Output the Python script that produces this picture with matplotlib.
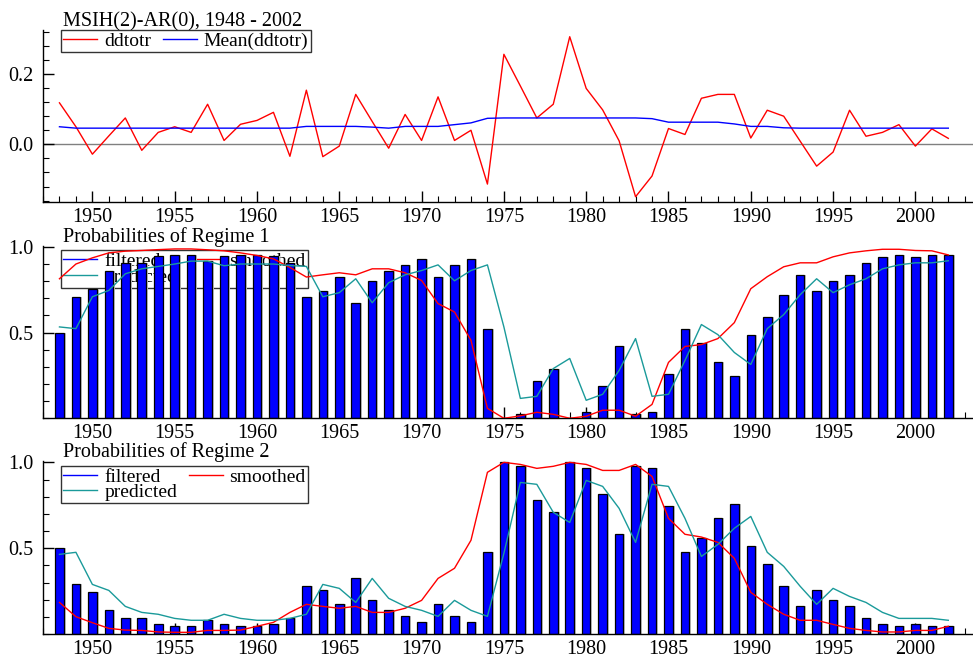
import numpy as np
import matplotlib
matplotlib.use("Agg")
import matplotlib.pyplot as plt
from matplotlib.lines import Line2D
from matplotlib.ticker import MultipleLocator, FixedLocator

plt.rcParams['font.family'] = ['Liberation Serif', 'DejaVu Serif']
plt.rcParams['font.size'] = 14.5

years = list(range(1948, 2003))

# growth series and its regime dependent mean
ddtotr = [0.118, 0.050, -0.028, 0.024, 0.075, -0.017, 0.034, 0.050, 0.034, 0.114,
          0.011, 0.057, 0.068, 0.091, -0.034, 0.154, -0.035, -0.005, 0.142, 0.065,
          -0.011, 0.085, 0.011, 0.135, 0.011, 0.040, -0.113, 0.256, 0.166, 0.075,
          0.114, 0.306, 0.159, 0.098, 0.010, -0.149, -0.090, 0.045, 0.028, 0.131,
          0.142, 0.142, 0.018, 0.097, 0.080, 0.009, -0.062, -0.022, 0.097, 0.023,
          0.034, 0.056, -0.005, 0.044, 0.017]
mean_ddtotr = [0.050, 0.046, 0.046, 0.046, 0.046, 0.046, 0.046, 0.046, 0.046, 0.046,
               0.046, 0.046, 0.046, 0.046, 0.046, 0.051, 0.051, 0.051, 0.051, 0.049,
               0.046, 0.051, 0.051, 0.051, 0.056, 0.061, 0.074, 0.075, 0.075, 0.075,
               0.075, 0.075, 0.075, 0.075, 0.075, 0.075, 0.073, 0.063, 0.063, 0.063,
               0.063, 0.058, 0.051, 0.051, 0.047, 0.046, 0.046, 0.046, 0.046, 0.046,
               0.046, 0.046, 0.046, 0.046, 0.046]

# regime 1
filt1 = [0.50, 0.709, 0.756, 0.86, 0.907, 0.907, 0.944, 0.955, 0.955, 0.92,
         0.944, 0.955, 0.955, 0.944, 0.907, 0.709, 0.744, 0.826, 0.674, 0.802,
         0.86, 0.897, 0.93, 0.826, 0.897, 0.93, 0.523, 0.0, 0.025, 0.22,
         0.29, 0.0, 0.035, 0.186, 0.419, 0.023, 0.035, 0.256, 0.523, 0.442,
         0.326, 0.244, 0.488, 0.593, 0.721, 0.837, 0.744, 0.802, 0.837, 0.907,
         0.942, 0.953, 0.942, 0.953, 0.953]
smooth1 = [0.814, 0.90, 0.936, 0.965, 0.975, 0.979, 0.984, 0.988, 0.988, 0.983,
           0.977, 0.965, 0.95, 0.93, 0.88, 0.824, 0.837, 0.849, 0.837, 0.872,
           0.872, 0.849, 0.804, 0.669, 0.62, 0.455, 0.058, 0.0, 0.014, 0.035,
           0.023, 0.0, 0.012, 0.047, 0.047, 0.012, 0.081, 0.326, 0.419, 0.43,
           0.465, 0.558, 0.756, 0.826, 0.884, 0.907, 0.907, 0.942, 0.965, 0.977,
           0.986, 0.986, 0.979, 0.977, 0.953]
pred1 = [0.533, 0.523, 0.709, 0.746, 0.843, 0.872, 0.886, 0.90, 0.917, 0.917,
         0.89, 0.90, 0.90, 0.90, 0.891, 0.886, 0.709, 0.733, 0.814, 0.674,
         0.791, 0.837, 0.862, 0.895, 0.802, 0.862, 0.895, 0.533, 0.116, 0.128,
         0.29, 0.349, 0.105, 0.14, 0.279, 0.465, 0.128, 0.14, 0.337, 0.547,
         0.488, 0.384, 0.314, 0.523, 0.605, 0.721, 0.814, 0.733, 0.779, 0.814,
         0.872, 0.895, 0.907, 0.907, 0.919]

# regime 2
filt2 = [0.499, 0.289, 0.243, 0.138, 0.091, 0.091, 0.056, 0.045, 0.045, 0.08,
         0.056, 0.045, 0.045, 0.056, 0.091, 0.278, 0.254, 0.173, 0.324, 0.196,
         0.138, 0.103, 0.068, 0.173, 0.103, 0.068, 0.476, 1.0, 0.977, 0.779,
         0.709, 1.0, 0.965, 0.814, 0.581, 0.977, 0.965, 0.744, 0.476, 0.557,
         0.674, 0.755, 0.511, 0.406, 0.278, 0.161, 0.254, 0.196, 0.161, 0.091,
         0.056, 0.045, 0.056, 0.045, 0.045]
smooth2 = [0.184, 0.101, 0.066, 0.033, 0.023, 0.021, 0.012, 0.01, 0.01, 0.021,
           0.021, 0.023, 0.045, 0.068, 0.126, 0.173, 0.161, 0.15, 0.161, 0.126,
           0.126, 0.15, 0.196, 0.324, 0.383, 0.546, 0.942, 1.0, 0.988, 0.965,
           0.977, 1.0, 0.988, 0.953, 0.953, 0.988, 0.918, 0.674, 0.581, 0.565,
           0.534, 0.441, 0.243, 0.173, 0.115, 0.08, 0.08, 0.056, 0.033, 0.021,
           0.012, 0.012, 0.021, 0.021, 0.045]
pred2 = [0.464, 0.476, 0.289, 0.254, 0.161, 0.126, 0.115, 0.091, 0.08, 0.08,
         0.115, 0.091, 0.08, 0.08, 0.091, 0.115, 0.289, 0.266, 0.184, 0.324,
         0.208, 0.161, 0.138, 0.103, 0.196, 0.138, 0.103, 0.47, 0.883, 0.872,
         0.709, 0.65, 0.895, 0.86, 0.732, 0.534, 0.872, 0.86, 0.674, 0.452,
         0.522, 0.616, 0.685, 0.476, 0.394, 0.278, 0.173, 0.266, 0.219, 0.184,
         0.126, 0.091, 0.091, 0.091, 0.08]

TEAL = '#1a9a9a'
x = np.array(years)

fig = plt.figure(figsize=(9.73, 6.63), dpi=100)
ax1 = fig.add_axes([0.0442, 0.6953, 0.9558, 0.2594])
ax2 = fig.add_axes([0.0442, 0.3691, 0.9558, 0.2606])
ax3 = fig.add_axes([0.0442, 0.0437, 0.9558, 0.2610])


def style_axis(ax):
    for s in ['top', 'right']:
        ax.spines[s].set_visible(False)
    ax.spines['left'].set_linewidth(1.0)
    ax.spines['bottom'].set_linewidth(1.0)
    ax.set_xlim(1947, 2003.5)
    ax.xaxis.set_major_locator(MultipleLocator(5))
    ax.xaxis.set_minor_locator(MultipleLocator(1))
    ax.tick_params(which='both', direction='in', top=False, right=False)
    ax.tick_params(which='major', length=8, width=1)
    ax.tick_params(which='minor', length=4, width=0.8)
    ax.tick_params(axis='x', which='major', pad=4)
    ax.tick_params(axis='y', which='major', pad=7)


# top panel
style_axis(ax1)
ax1.axhline(0, color='#808080', lw=1.0, zorder=1)
ax1.plot(x, ddtotr, color='red', lw=1.0, label='ddtotr', zorder=3)
ax1.plot(x, mean_ddtotr, color='blue', lw=1.0, label='Mean(ddtotr)', zorder=3)
ax1.set_ylim(-0.164, 0.325)
ax1.yaxis.set_major_locator(FixedLocator([0.0, 0.2]))
ax1.yaxis.set_major_formatter(plt.FuncFormatter(lambda v, p: f"{v:.1f}"))
ax1.yaxis.set_minor_locator(MultipleLocator(0.04))
ax1.text(0.0215, 1.05, 'MSIH(2)-AR(0), 1948 - 2002', transform=ax1.transAxes,
         ha='left', va='center', fontsize=14.5)
leg = ax1.legend(loc='upper left', bbox_to_anchor=(0.0194, 1.0), ncol=2,
                 frameon=True, fancybox=False, edgecolor='black', fontsize=14,
                 handlelength=1.75, handletextpad=0.35, columnspacing=0.6,
                 borderpad=0.12, borderaxespad=0.0)
leg.get_frame().set_linewidth(1.0)


def prob_panel(ax, filt, smooth, pred, title):
    style_axis(ax)
    ax.bar(x + 0.12, filt, width=0.52, color='#c4c4c4', edgecolor='none', zorder=1.5)
    ax.bar(x, filt, width=0.52, color='blue', edgecolor='black', linewidth=0.9, zorder=2)
    ax.plot(x, smooth, color='red', lw=1.0, zorder=3)
    ax.plot(x, pred, color=TEAL, lw=1.0, zorder=3)
    ax.set_ylim(0, 1.008)
    ax.yaxis.set_major_locator(FixedLocator([0.5, 1.0]))
    ax.yaxis.set_major_formatter(plt.FuncFormatter(lambda v, p: f"{v:.1f}"))
    ax.yaxis.set_minor_locator(MultipleLocator(0.1))
    ax.text(0.0215, 1.05, title, transform=ax.transAxes, ha='left', va='center',
            fontsize=14.5, zorder=4)
    handles = [Line2D([], [], color='blue', lw=1.0),
               Line2D([], [], color=TEAL, lw=1.0),
               Line2D([], [], color='red', lw=1.0)]
    labels = ['filtered', 'predicted', 'smoothed']
    lg = ax.legend(handles, labels, loc='upper left', bbox_to_anchor=(0.0194, 0.972),
                   ncol=2, frameon=True, fancybox=False, edgecolor='black',
                   fontsize=14, handlelength=1.75, handletextpad=0.35,
                   columnspacing=0.6, labelspacing=-0.12, borderpad=0.12,
                   borderaxespad=0.0)
    lg.get_frame().set_linewidth(1.0)
    lg.set_zorder(1)


prob_panel(ax2, filt1, smooth1, pred1, 'Probabilities of Regime 1')
prob_panel(ax3, filt2, smooth2, pred2, 'Probabilities of Regime 2')

fig.savefig('out.png', dpi=100)
